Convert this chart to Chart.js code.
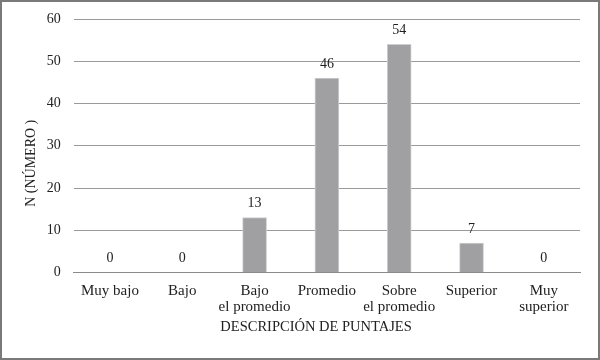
<!DOCTYPE html>
<html>
<head>
<meta charset="utf-8">
<script src="https://cdn.jsdelivr.net/npm/chart.js@4/dist/chart.umd.min.js"></script>
<style>
  html, body { margin: 0; padding: 0; background: #fff; }
  #wrap { width: 596px; height: 356px; border: 2px solid #7a7a7a; position: relative; }
</style>
</head>
<body>
<div id="wrap"><canvas id="c"></canvas></div>
<script>
const categories = [['Muy bajo'], ['Bajo'], ['Bajo', 'el promedio'], ['Promedio'], ['Sobre', 'el promedio'], ['Superior'], ['Muy', 'superior']];
const counts = [0, 0, 13, 46, 54, 7, 0];
const yTicks = [0, 10, 20, 30, 40, 50, 60];

const FONT = '"Liberation Serif", "DejaVu Serif", serif';
const NB = '\u00a0';

// numbers above each bar
const valueLabels = {
    id: 'valueLabels',
    afterDatasetsDraw(chart) {
        const c = chart.ctx;
        const meta = chart.getDatasetMeta(0);
        c.save();
        c.font = '14px ' + FONT;
        c.fillStyle = '#222';
        c.textAlign = 'center';
        c.textBaseline = 'bottom';
        meta.data.forEach((bar, i) => {
            c.fillText(String(counts[i]), bar.x, bar.y - 7);
        });
        c.restore();
    }
};

new Chart(document.getElementById('c'), {
    type: 'bar',
    data: {
        labels: categories,
        datasets: [{
            data: counts,
            backgroundColor: '#a0a0a3',
            borderColor: '#cfcfd1',
            borderWidth: 1,
            barThickness: 24
        }]
    },
    options: {
        responsive: true,
        maintainAspectRatio: false,
        animation: false,
        layout: { padding: { top: 17, right: 18, left: 21, bottom: 22 } },
        plugins: {
            legend: { display: false },
            tooltip: { enabled: false }
        },
        scales: {
            x: {
                grid: { display: false, drawTicks: false },
                border: { color: '#8a8a8a', width: 1 },
                ticks: { color: '#222', font: { family: FONT, size: 15, lineHeight: 1.1 }, padding: 10, maxRotation: 0, autoSkip: false },
                title: { display: true, text: 'DESCRIPCIÓN DE PUNTAJES' + NB.repeat(6), color: '#222', font: { family: FONT, size: 14.5 }, padding: { top: -7, bottom: 0 } }
            },
            y: {
                min: 0, max: 60,
                afterBuildTicks(axis) { axis.ticks = yTicks.map(v => ({ value: v })); },
                afterFit(axis) { axis.paddingTop = 0; },
                grid: { color: '#9a9a9a', drawTicks: false },
                border: { display: false },
                ticks: { color: '#222', font: { family: FONT, size: 14 }, padding: 13 },
                title: { display: true, text: 'N (NÚMERO )' + NB.repeat(10), color: '#222', font: { family: FONT, size: 14 }, padding: { top: 0, bottom: -6 } }
            }
        }
    },
    plugins: [valueLabels]
});
</script>
</body>
</html>
